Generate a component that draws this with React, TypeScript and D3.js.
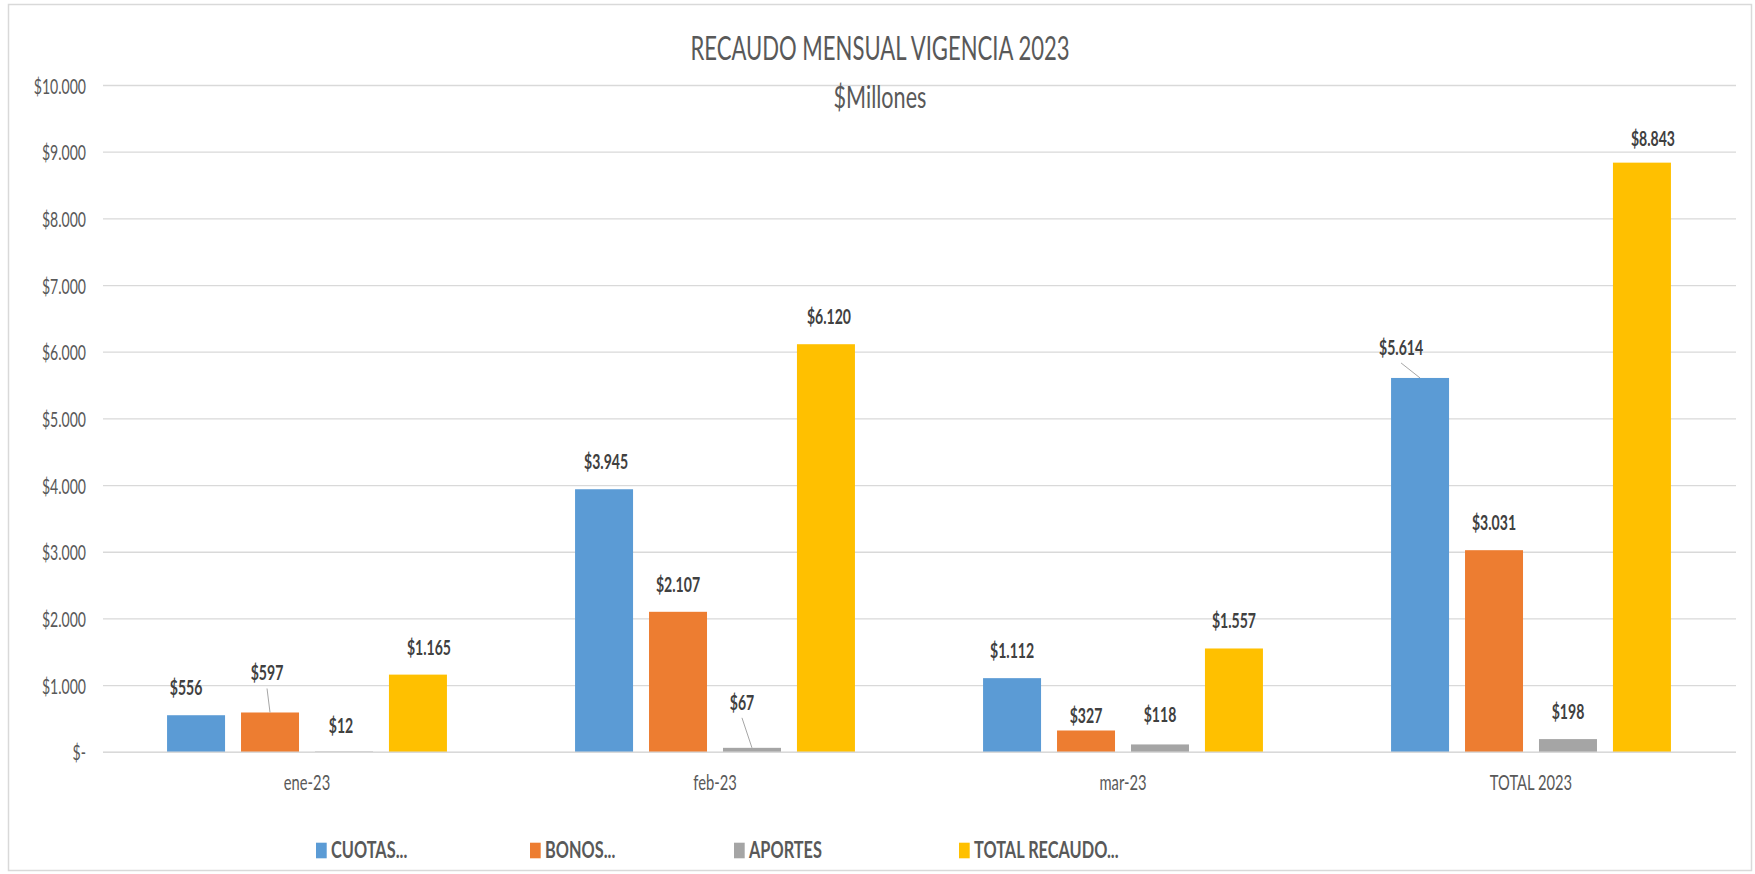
import { useEffect, useRef } from 'react';
import * as d3 from 'd3';

const categories = ['ene-23', 'feb-23', 'mar-23', 'TOTAL 2023'];
const seriesNames = ['CUOTAS...', 'BONOS...', 'APORTES', 'TOTAL RECAUDO...'];
const cuotas = [556, 3945, 1112, 5614];
const bonos = [597, 2107, 327, 3031];
const aportes = [12, 67, 118, 198];
const totalRecaudo = [1165, 6120, 1557, 8843];
const yTicks = [0, 1000, 2000, 3000, 4000, 5000, 6000, 7000, 8000, 9000, 10000];

const colors = ['#5B9BD5', '#ED7D31', '#A5A5A5', '#FFC000'];

// data labels were dragged by hand in the original: [dx, dy] per series / category
const cuotasNudge = [[-10, 0], [2, 0], [0, 0], [-19, -3]];
const bonosNudge = [[-3, -12], [0, 0], [0, 13], [0, 0]];
const aportesNudge = [[-3, 2], [-10, -18], [0, -2], [0, 0]];
const totalNudge = [[11, 0], [3, 0], [0, 0], [11, 3]];
const leaderLines = [
    [false, false, false, true],
    [true, false, false, false],
    [false, true, false, false],
    [false, false, false, false],
];

// legend entry left edges, as Excel laid them out
const legendLeft = [316, 530, 734, 959];

const W = 1755;
const H = 874;
const SX = 0.67; // original text is squeezed horizontally
const FONT = 'Lato, "Liberation Sans", sans-serif';

const locale = d3.formatLocale({ decimal: ',', thousands: '.', grouping: [3], currency: ['$', ''] });
const money = locale.format('$,.0f');

export default function App() {
    const svgRef = useRef<SVGSVGElement>(null);

    useEffect(() => {
        if (!svgRef.current) return;
        const svg = d3.select(svgRef.current);
        svg.selectAll('*').remove();

        const series = [cuotas, bonos, aportes, totalRecaudo].map((values, i) => ({
            name: seriesNames[i],
            values,
            color: colors[i],
            nudge: [cuotasNudge, bonosNudge, aportesNudge, totalNudge][i],
            leader: leaderLines[i],
        }));

        const plotLeft = 103;
        const plotRight = 1735;

        const x0 = d3.scaleBand()
            .domain(categories)
            .range([plotLeft, plotRight])
            .paddingInner(0.314)
            .paddingOuter(0.157);

        const x1 = d3.scaleBand()
            .domain(seriesNames)
            .range([0, x0.bandwidth()])
            .paddingInner(0.216);

        const y = d3.scaleLinear()
            .domain([0, 10000])
            .range([752.3, 85.5]);

        const squeezedText = (g: any, x: number, yy: number, txt: string, anchor: string, sx = SX) =>
            g.append('text')
                .attr('transform', `translate(${x},${yy}) scale(${sx},1)`)
                .attr('text-anchor', anchor)
                .style('font-family', FONT)
                .text(txt);

        // chart border
        svg.append('rect')
            .attr('x', 8.5)
            .attr('y', 4.5)
            .attr('width', W - 12)
            .attr('height', H - 8)
            .attr('fill', '#fff')
            .attr('stroke', '#d9d9d9')
            .attr('stroke-width', 1.5);

        // gridlines + y labels
        const grid = svg.append('g');
        yTicks.forEach(t => {
            grid.append('line')
                .attr('x1', plotLeft)
                .attr('x2', plotRight + 1)
                .attr('y1', y(t))
                .attr('y2', y(t))
                .attr('stroke', '#d9d9d9')
                .attr('stroke-width', 1.3);
            squeezedText(grid, 86, y(t) + 8, t === 0 ? '$-' : money(t), 'end', 0.64)
                .style('font-size', '22px')
                .style('fill', '#595959');
        });

        // bars
        series.forEach(s => {
            const g = svg.append('g');
            g.selectAll('rect')
                .data(s.values)
                .enter().append('rect')
                .attr('x', (d, i) => (x0(categories[i]) || 0) + (x1(s.name) || 0))
                .attr('y', d => y(d))
                .attr('width', x1.bandwidth())
                .attr('height', d => y(0) - y(d))
                .attr('fill', s.color);

            s.values.forEach((v, i) => {
                const cx = (x0(categories[i]) || 0) + (x1(s.name) || 0) + x1.bandwidth() / 2;
                const top = y(v);
                const lx = cx + s.nudge[i][0];
                const ly = top - 20 + s.nudge[i][1];
                if (s.leader[i]) {
                    g.append('line')
                        .attr('x1', lx)
                        .attr('y1', ly + 8)
                        .attr('x2', cx)
                        .attr('y2', top)
                        .attr('stroke', '#a6a6a6')
                        .attr('stroke-width', 1);
                }
                squeezedText(g, lx, ly, money(v), 'middle')
                    .style('font-size', '21px')
                    .style('font-weight', 'bold')
                    .style('fill', '#404040');
            });
        });

        // baseline axis
        svg.append('line')
            .attr('x1', plotLeft)
            .attr('x2', plotRight + 1)
            .attr('y1', y(0))
            .attr('y2', y(0))
            .attr('stroke', '#d9d9d9')
            .attr('stroke-width', 1.5);

        // category labels
        categories.forEach(c => {
            squeezedText(svg, (x0(c) || 0) + x0.bandwidth() / 2, 790, c, 'middle')
                .style('font-size', '22px')
                .style('fill', '#595959');
        });

        // title
        squeezedText(svg, 880, 60, 'RECAUDO MENSUAL VIGENCIA 2023', 'middle', 0.69)
            .style('font-size', '32px')
            .style('fill', '#595959');
        squeezedText(svg, 880, 108, '$Millones', 'middle', 0.72)
            .style('font-size', '30px')
            .style('fill', '#595959');

        // legend
        series.forEach((s, i) => {
            const lx = legendLeft[i];
            svg.append('rect')
                .attr('x', lx)
                .attr('y', 842.7)
                .attr('width', 10.7)
                .attr('height', 15.6)
                .attr('fill', s.color);
            squeezedText(svg, lx + 15, 858, s.name, 'start', 0.71)
                .style('font-size', '23px')
                .style('font-weight', 'bold')
                .style('fill', '#595959');
        });
    }, []);

    return (
        <svg
            ref={svgRef}
            width={W}
            height={H}
            style={{ position: 'absolute', left: 0, top: 0, display: 'block', background: '#fff' }}
        />
    );
}
